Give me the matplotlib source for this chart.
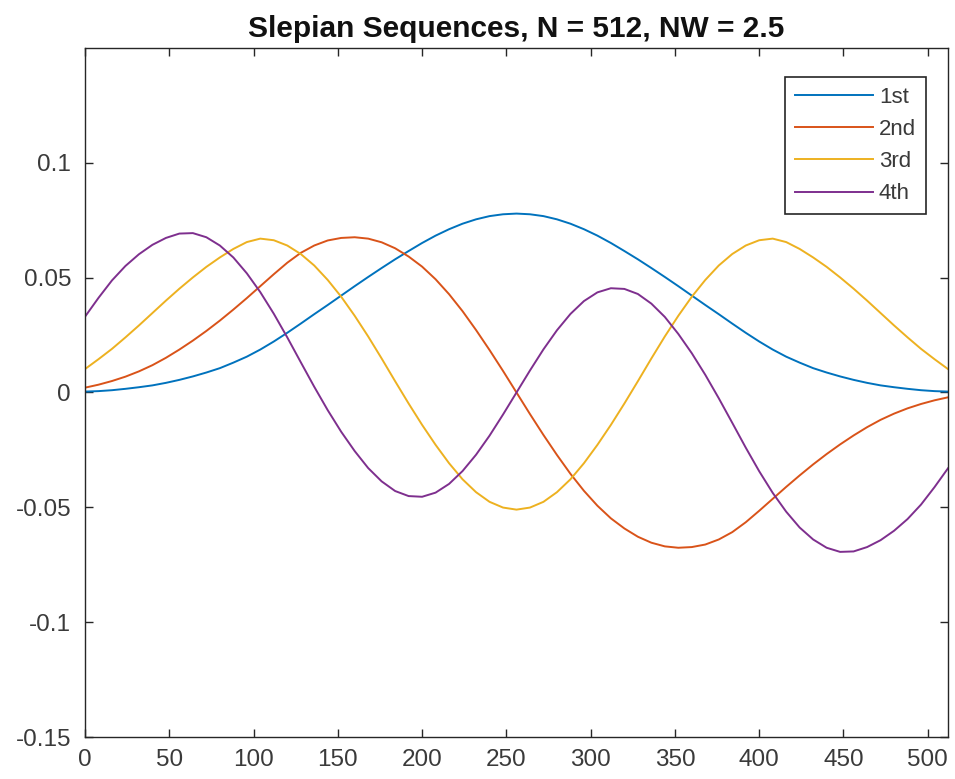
import matplotlib
matplotlib.use('Agg')
import matplotlib.pyplot as plt

# sample index along the sequence (every 8th sample of 0..512)
sample_n = list(range(0, 513, 8))

# values
seq_1st = [0.0004, 0.0006, 0.0010, 0.0016, 0.0023, 0.0031, 0.0042, 0.0055, 0.0070, 0.0087,
           0.0106, 0.0130, 0.0156, 0.0187, 0.0222, 0.0260, 0.0300, 0.0341, 0.0381, 0.0422,
           0.0463, 0.0503, 0.0542, 0.0580, 0.0616, 0.0651, 0.0683, 0.0711, 0.0735, 0.0754,
           0.0768, 0.0776, 0.0779,
           0.0776, 0.0768, 0.0754, 0.0735, 0.0711, 0.0683, 0.0651, 0.0616, 0.0580, 0.0542,
           0.0503, 0.0463, 0.0422, 0.0381, 0.0341, 0.0300, 0.0260, 0.0222, 0.0187, 0.0156,
           0.0130, 0.0106, 0.0087, 0.0070, 0.0055, 0.0042, 0.0031, 0.0023, 0.0016, 0.0010,
           0.0006, 0.0004]

seq_2nd = [0.0021, 0.0034, 0.0050, 0.0069, 0.0092, 0.0119, 0.0151, 0.0187, 0.0226, 0.0268,
           0.0313, 0.0361, 0.0411, 0.0463, 0.0515, 0.0565, 0.0608, 0.0640, 0.0662, 0.0673,
           0.0676, 0.0670, 0.0654, 0.0628, 0.0592, 0.0548, 0.0493, 0.0428, 0.0354, 0.0272,
           0.0185, 0.0094, 0.0000,
           -0.0094, -0.0185, -0.0272, -0.0354, -0.0428, -0.0493, -0.0548, -0.0592, -0.0628, -0.0654,
           -0.0670, -0.0676, -0.0673, -0.0662, -0.0640, -0.0608, -0.0565, -0.0515, -0.0463, -0.0411,
           -0.0361, -0.0313, -0.0268, -0.0226, -0.0187, -0.0151, -0.0119, -0.0092, -0.0069, -0.0050,
           -0.0034, -0.0021]

seq_3rd = [0.0102, 0.0145, 0.0190, 0.0240, 0.0292, 0.0346, 0.0400, 0.0452, 0.0501, 0.0547,
           0.0588, 0.0625, 0.0655, 0.0670, 0.0663, 0.0640, 0.0603, 0.0553, 0.0490, 0.0417,
           0.0334, 0.0244, 0.0148, 0.0049, -0.0048, -0.0141, -0.0228, -0.0308, -0.0378, -0.0434,
           -0.0476, -0.0501, -0.0510,
           -0.0501, -0.0476, -0.0434, -0.0378, -0.0308, -0.0228, -0.0141, -0.0048, 0.0049, 0.0148,
           0.0244, 0.0334, 0.0417, 0.0490, 0.0553, 0.0603, 0.0640, 0.0663, 0.0670, 0.0655,
           0.0625, 0.0588, 0.0547, 0.0501, 0.0452, 0.0400, 0.0346, 0.0292, 0.0240, 0.0190,
           0.0145, 0.0102]

seq_4th = [0.0330, 0.0412, 0.0488, 0.0551, 0.0602, 0.0643, 0.0673, 0.0692, 0.0694, 0.0676,
           0.0640, 0.0588, 0.0519, 0.0437, 0.0343, 0.0240, 0.0132, 0.0025, -0.0077, -0.0171,
           -0.0255, -0.0329, -0.0387, -0.0429, -0.0451, -0.0454, -0.0436, -0.0398, -0.0342, -0.0271,
           -0.0188, -0.0096, 0.0000,
           0.0096, 0.0188, 0.0271, 0.0342, 0.0398, 0.0436, 0.0454, 0.0451, 0.0429, 0.0387,
           0.0329, 0.0255, 0.0171, 0.0077, -0.0025, -0.0132, -0.0240, -0.0343, -0.0437, -0.0519,
           -0.0588, -0.0640, -0.0676, -0.0694, -0.0692, -0.0673, -0.0643, -0.0602, -0.0551, -0.0488,
           -0.0412, -0.0330]

labels = ['1st', '2nd', '3rd', '4th']
colors = ['#0072BD', '#D95319', '#EDB120', '#7E2F8E']

x_ticks = [0, 50, 100, 150, 200, 250, 300, 350, 400, 450, 500]
y_ticks = [-0.15, -0.1, -0.05, 0, 0.05, 0.1]
y_tick_labels = ['-0.15', '-0.1', '-0.05', '0', '0.05', '0.1']

plt.rcParams['font.family'] = ['Liberation Sans', 'DejaVu Sans']
axis_col = '#262626'
text_col = '#3a3a3a'

fig = plt.figure(figsize=(9.55, 7.79), dpi=100)
ax = fig.add_axes([85/955, 1 - 737/779, (948 - 85)/955, (737 - 48)/779])

for vals, lab, col in zip([seq_1st, seq_2nd, seq_3rd, seq_4th], labels, colors):
    ax.plot(sample_n, vals, color=col, lw=1.4, label=lab)

ax.set_xlim(0, 512)
ax.set_ylim(-0.15, 0.15)
ax.set_xticks(x_ticks)
ax.set_yticks(y_ticks)
ax.set_yticklabels(y_tick_labels)
ax.tick_params(direction='in', length=5.5, width=1, colors=axis_col, labelcolor=text_col,
               labelsize=17.5, top=True, right=True)
ax.tick_params(axis='y', pad=10)
ax.tick_params(axis='x', pad=9)
for sp in ax.spines.values():
    sp.set_color(axis_col)
    sp.set_linewidth(1)

ax.set_title('Slepian Sequences, N = 512, NW = 2.5', fontsize=21.5, fontweight='bold',
             color='#111111', pad=8)

leg = ax.legend(loc='upper right', bbox_to_anchor=(926/955, 1 - 77/779), bbox_transform=fig.transFigure,
                fontsize=16, handlelength=3.5, handletextpad=0.27, borderpad=0.45, labelspacing=0.5,
                fancybox=False, framealpha=1, edgecolor=axis_col, borderaxespad=0)
leg.get_frame().set_linewidth(1.2)
for t in leg.get_texts():
    t.set_color(text_col)

plt.savefig('out.png', dpi=100)
plt.close()
